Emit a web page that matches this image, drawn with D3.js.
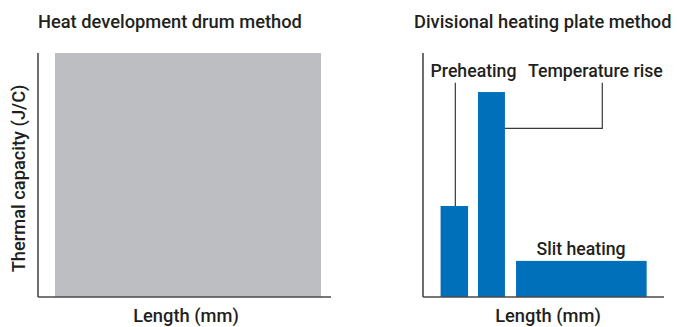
<!DOCTYPE html>
<html><head><meta charset="utf-8">
<script src="https://cdn.jsdelivr.net/npm/d3@7"></script>
<style>
body{margin:0;background:#fff;}
text{font-family:Roboto,"Liberation Sans",Arial,sans-serif;font-weight:500;fill:#231f20;}
</style></head>
<body><svg id="c" width="677" height="327"></svg>
<script>
// ---- data (arbitrary units: length 0-100, thermal capacity 0-100) ----
const panelTitles = ["Heat development drum method", "Divisional heating plate method"];
const xAxisLabel = "Length (mm)";
const yAxisLabel = "Thermal capacity (J/C)";
// drum method: one continuous heated zone
const drumNames = ["Drum"];
const drumStart = [5.8];
const drumEnd   = [96.6];
const drumValue = [100];
// plate method: three separate plates
const plateNames = ["Preheating", "Temperature rise", "Slit heating"];
const plateStart = [7.3, 22.8, 38.6];
const plateEnd   = [18.7, 34.0, 92.8];
const plateValue = [37.3, 84.0, 14.8];

const svg = d3.select("#c");
const yTop = 53, yBot = 297;
const y = d3.scaleLinear().domain([0, 100]).range([yBot, yTop]);
const xL = d3.scaleLinear().domain([0, 100]).range([38, 331]);
const xR = d3.scaleLinear().domain([0, 100]).range([423, 664]);

const gray = "#bdbec1", blue = "#0070ba", axisCol = "#4a4a4a", leaderCol = "#3a3a3a";
const bigFont = 18.3, smallFont = 17.7;

function drawAxes(x) {
  const g = svg.append("g");
  g.append("line").attr("x1", x(0)).attr("x2", x(0)).attr("y1", y(100)).attr("y2", y(0))
    .attr("stroke", axisCol).attr("stroke-width", 1.6);
  g.append("line").attr("x1", x(0)).attr("x2", x(100)).attr("y1", y(0)).attr("y2", y(0))
    .attr("stroke", axisCol).attr("stroke-width", 1.6);
}

// left panel bars
const drum = drumNames.map((n, i) => ({n, s: drumStart[i], e: drumEnd[i], v: drumValue[i]}));
svg.append("g").selectAll("rect").data(drum).join("rect")
  .attr("x", d => xL(d.s)).attr("width", d => xL(d.e) - xL(d.s))
  .attr("y", d => y(d.v)).attr("height", d => y(0) - y(d.v))
  .attr("fill", gray);
drawAxes(xL);

// right panel bars
const plates = plateNames.map((n, i) => ({n, s: plateStart[i], e: plateEnd[i], v: plateValue[i]}));
svg.append("g").selectAll("rect").data(plates).join("rect")
  .attr("x", d => xR(d.s)).attr("width", d => xR(d.e) - xR(d.s))
  .attr("y", d => y(d.v)).attr("height", d => y(0) - y(d.v))
  .attr("fill", blue);
drawAxes(xR);

// titles
svg.append("text").attr("x", 38).attr("y", 27.5).attr("font-size", bigFont).text(panelTitles[0]);
svg.append("text").attr("x", 414).attr("y", 27.5).attr("font-size", bigFont).text(panelTitles[1]);

// axis labels
svg.append("text").attr("x", 186).attr("y", 321.5).attr("text-anchor", "middle").attr("font-size", bigFont).text(xAxisLabel);
svg.append("text").attr("x", 548).attr("y", 321.5).attr("text-anchor", "middle").attr("font-size", bigFont).text(xAxisLabel);
svg.append("text").attr("transform", "translate(25,178.5) rotate(-90)").attr("text-anchor", "middle")
  .attr("font-size", bigFont).text(yAxisLabel);

// annotations
const labelY = 76.5, leaderTop = 82.7;
const p0 = plates[0], p1 = plates[1], p2 = plates[2];
svg.append("text").attr("x", 430.5).attr("y", labelY).attr("font-size", smallFont).text(p0.n);
svg.append("text").attr("x", 528).attr("y", labelY).attr("font-size", smallFont).text(p1.n);
svg.append("text").attr("x", 581).attr("y", 255).attr("text-anchor", "middle")
  .attr("font-size", smallFont).text(p2.n);

const lg = svg.append("g").attr("fill", "none").attr("stroke", leaderCol).attr("stroke-width", 1.2);
const preX = (xR(p0.s) + xR(p0.e)) / 2 + 1;
lg.append("path").attr("d", `M${preX},${leaderTop}V${y(p0.v)}`);
const riseX = 602.3, riseY = 128.3;
lg.append("path").attr("d", `M${xR(p1.e)},${riseY}H${riseX}V${leaderTop}`);
</script></body></html>
